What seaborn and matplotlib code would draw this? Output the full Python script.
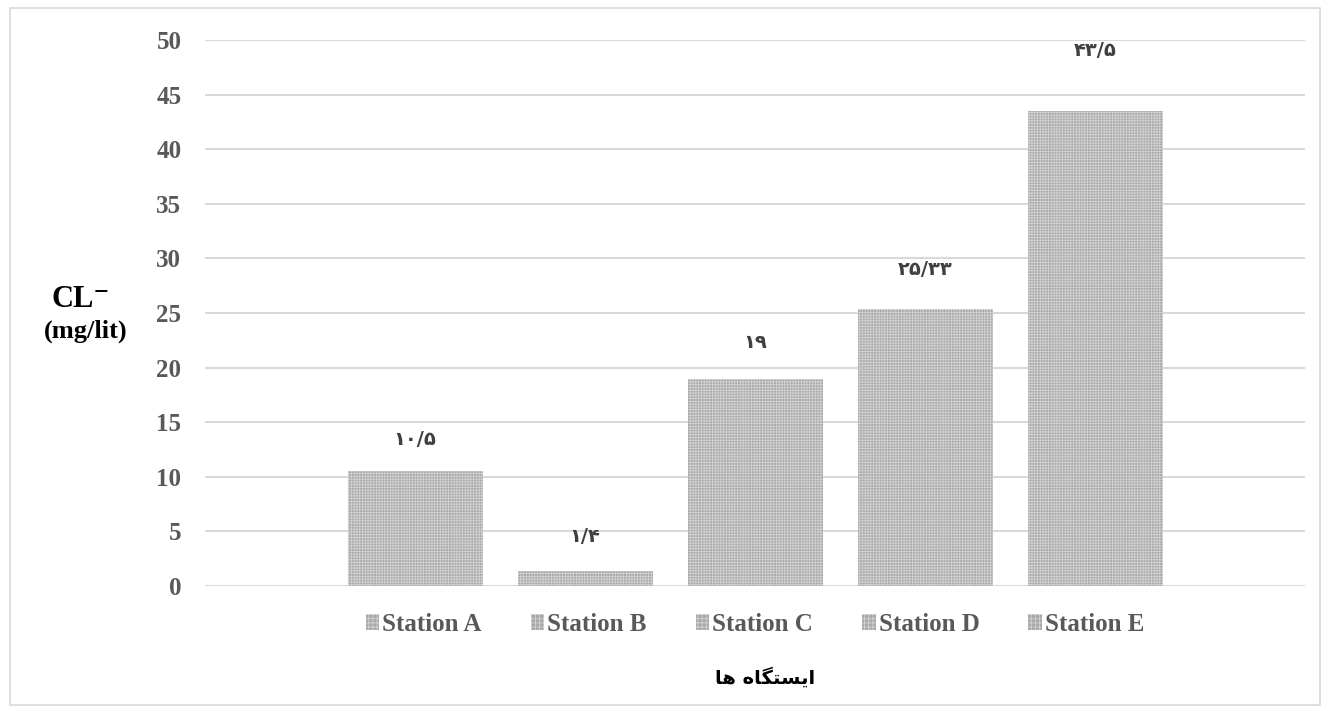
import pandas as pd
import matplotlib.pyplot as plt
import matplotlib.patches as mpatches
import seaborn as sns

# Data
stations = ["Station A", "Station B", "Station C", "Station D", "Station E"]
chloride = [10.5, 1.4, 19, 25.33, 43.5]
value_labels = ["۱۰/۵", "۱/۴", "۱۹", "۲۵/۳۳", "۴۳/۵"]
y_ticks = [0, 5, 10, 15, 20, 25, 30, 35, 40, 45, 50]

# label offsets above each bar (points), as placed in the original
label_pad = [16, 18, 19, 22, 37]

# x label, Arabic presentation forms in visual order (matplotlib has no shaping)
x_title = "\uFE8E\uFEEB \uFEE9\uFE8E\uFB95\uFE98\uFEB4\uFBFE\uFE8D"

df = pd.DataFrame({"group": [""] * len(stations), "station": stations, "cl": chloride})

sns.set_theme(style="white")
plt.rcParams["hatch.linewidth"] = 0.6

SERIF = ["Liberation Serif", "DejaVu Serif"]
GRAY = "#595959"

fig = plt.figure(figsize=(13.28, 7.11), dpi=100)
ax = fig.add_axes([0.1544, 0.1758, 0.8283, 0.7679])

sns.barplot(
    data=df, x="group", y="cl", hue="station",
    palette=["#a9a9a9"] * len(stations), saturation=1,
    width=0.7727, gap=0.206, ax=ax,
)

for p in ax.patches:
    p.set_edgecolor("#d2d2d2")
    p.set_linewidth(0)
    p.set_hatch("++++++")

# value labels
for cont, lab, pad in zip(ax.containers, value_labels, label_pad):
    ax.bar_label(cont, labels=[lab], padding=pad, color="#404040",
                 fontsize=14, fontweight="bold", family=["DejaVu Sans"])

ax.set_ylim(0, 50)
ax.set_yticks(y_ticks)
ax.set_yticklabels([str(t) for t in y_ticks], family=SERIF, fontweight="bold",
                   fontsize=18, color=GRAY)
ax.tick_params(axis="y", length=0, pad=17)
ax.set_xticks([])
ax.set_xlabel("")
ax.set_ylabel("")
ax.yaxis.grid(True, color="#d9d9d9", linewidth=1.5)
ax.set_axisbelow(True)
for s in ax.spines.values():
    s.set_visible(False)

# legend below the plot
handles, labels = ax.get_legend_handles_labels()
for h in handles:
    h.set_edgecolor("#d2d2d2")
    h.set_linewidth(0)
    h.set_hatch("++++")
ax.legend(handles, labels, loc="upper center", bbox_to_anchor=(0.5, -0.008),
          ncol=5, frameon=False, handlelength=0.55, handleheight=0.55,
          handletextpad=0.12, columnspacing=1.95,
          prop={"family": SERIF, "weight": "bold", "size": 18}, labelcolor=GRAY)

# axis titles
fig.text(765 / 1328, 1 - 677 / 711, x_title, ha="center", va="center",
         fontsize=14, fontweight="bold", family=["DejaVu Sans"], color="black")
fig.text(81 / 1328, 1 - 307 / 711, "CL⁻", ha="center", va="baseline",
         fontsize=22, fontweight="bold", family=SERIF, color="black")
fig.text(86 / 1328, 1 - 331 / 711, "(mg/lit)", ha="center", va="center",
         fontsize=19, fontweight="bold", family=SERIF, color="black")

# chart frame
fig.patches.append(mpatches.Rectangle((10 / 1328, 6 / 711), 1310 / 1328, 697 / 711,
                                      transform=fig.transFigure, fill=False,
                                      edgecolor="#d9d9d9", linewidth=1.2))

plt.savefig("out.png", dpi=100)
